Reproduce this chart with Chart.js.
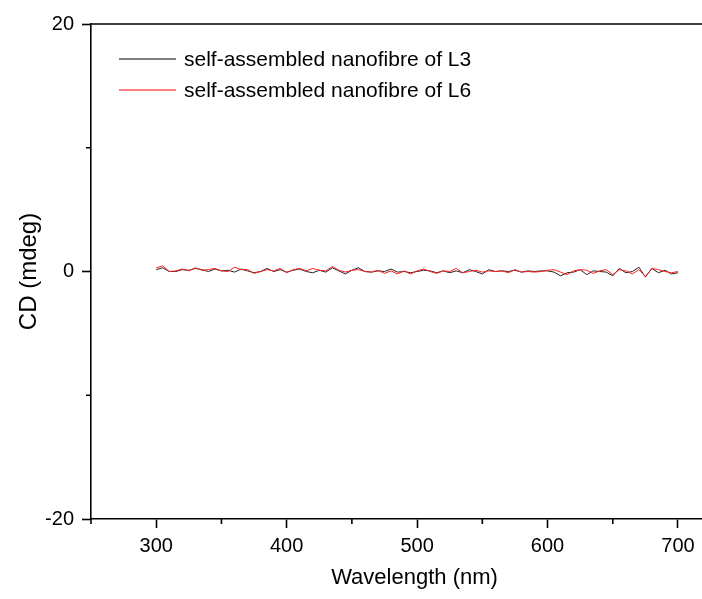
<!DOCTYPE html>
<html>
<head>
<meta charset="utf-8">
<script src="https://cdn.jsdelivr.net/npm/chart.js@4/dist/chart.umd.min.js"></script>
<style>
html,body{margin:0;padding:0;background:#fff;overflow:hidden;}
#wrap{width:702px;height:599px;overflow:hidden;position:relative;}
canvas{display:block;}
</style>
</head>
<body>
<div id="wrap"><canvas id="c" width="738" height="599"></canvas></div>
<script>
// ---- data ----
const wavelengths = [300,305,310,315,320,325,330,335,340,345,350,355,360,365,370,375,380,
  385,390,395,400,405,410,415,420,425,430,435,440,445,450,455,460,
  465,470,475,480,485,490,495,500,505,510,515,520,525,530,535,540,
  545,550,555,560,565,570,575,580,585,590,595,600,605,610,615,620,
  625,630,635,640,645,650,655,660,665,670,675,680,685,690,695,700];
const cdL3 = [0.15,0.3,0.0,0.0,0.15,0.1,0.25,0.15,0.0,0.2,0.05,0.1,-0.05,0.2,0.05,-0.1,0.0,
  0.25,0.0,0.15,-0.05,0.1,0.2,0.0,-0.1,0.1,-0.05,0.3,0.05,-0.2,0.1,0.3,0.0,
  -0.05,0.05,0.0,0.2,-0.05,0.0,-0.1,0.0,0.1,0.05,-0.1,0.05,-0.1,0.05,-0.1,0.15,
  0.0,-0.2,0.15,0.0,0.05,0.0,0.1,-0.05,0.05,0.0,0.05,0.05,-0.05,-0.35,-0.1,-0.05,
  0.15,-0.25,0.05,0.0,-0.05,-0.35,0.25,-0.1,0.0,0.35,-0.45,0.25,-0.1,0.1,-0.2,-0.1];
const cdL6 = [0.3,0.45,0.0,0.05,0.2,0.05,0.3,0.1,0.15,0.25,0.05,0.0,0.35,0.15,0.15,-0.15,0.0,
  0.15,0.05,0.25,-0.1,0.15,0.25,0.05,0.25,0.1,0.05,0.4,0.1,-0.05,0.1,0.15,0.0,
  -0.05,0.1,-0.15,0.05,-0.2,0.05,-0.2,0.05,0.2,0.0,-0.15,0.05,0.0,0.25,-0.1,0.0,
  0.1,-0.05,0.05,0.0,0.05,-0.1,0.15,-0.05,0.0,-0.05,0.0,0.1,0.15,-0.05,-0.25,0.05,
  0.15,0.1,-0.15,0.05,0.15,-0.25,0.15,0.05,-0.2,0.15,-0.4,0.25,0.15,0.0,-0.1,0.0];
const seriesLabels = ['self-assembled nanofibre of L3','self-assembled nanofibre of L6'];
const xMajorTicks = [300,400,500,600,700];
const xMinorTicks = [250,350,450,550,650];
const yMajorTicks = [-20,0,20];
const yMinorTicks = [-10,10];
const xTitle = 'Wavelength (nm)';
const yTitle = 'CD (mdeg)';

const FONT = "'Liberation Sans', Arial, sans-serif";
const AXW = 1.6;

const toPts = (xs, ys) => xs.map((x,i)=>({x:x,y:ys[i]}));

const framePlugin = {
  id:'frame',
  afterDraw(chart){
    const ctx = chart.ctx, a = chart.chartArea;
    const xs = chart.scales.x, ys = chart.scales.y;
    ctx.save();
    ctx.strokeStyle='#000'; ctx.lineWidth=AXW;
    // top border
    ctx.beginPath(); ctx.moveTo(a.left - AXW/2, a.top); ctx.lineTo(a.right+5, a.top); ctx.stroke();
    // minor ticks
    ctx.beginPath();
    xMinorTicks.forEach(v=>{const px=xs.getPixelForValue(v); ctx.moveTo(px,a.bottom); ctx.lineTo(px,a.bottom+5);});
    yMinorTicks.forEach(v=>{const py=ys.getPixelForValue(v); ctx.moveTo(a.left,py); ctx.lineTo(a.left-5,py);});
    ctx.stroke();
    // legend
    ctx.lineWidth=1;
    ctx.font = "21px " + FONT;
    ctx.textBaseline='middle';
    ctx.fillStyle='#000';
    const rows=[59,90];
    chart.data.datasets.forEach((ds,i)=>{
      ctx.strokeStyle = ds.legendColor;
      ctx.beginPath(); ctx.moveTo(119,rows[i]); ctx.lineTo(176,rows[i]); ctx.stroke();
      ctx.fillText(ds.label,184,rows[i]+1);
    });
    ctx.restore();
  }
};

new Chart(document.getElementById('c'),{
  type:'line',
  data:{datasets:[
    {label:seriesLabels[0],data:toPts(wavelengths,cdL3),borderColor:'#222',legendColor:'#000',borderWidth:1,pointRadius:0,tension:0,order:1},
    {label:seriesLabels[1],data:toPts(wavelengths,cdL6),borderColor:'#ff2020',legendColor:'#ff0000',borderWidth:1,pointRadius:0,tension:0,order:0}
  ]},
  options:{
    responsive:false,animation:false,
    layout:{padding:{top:24,right:0,left:0,bottom:0}},
    plugins:{legend:{display:false},tooltip:{enabled:false}},
    scales:{
      x:{type:'linear',min:250,max:746,position:'bottom',
        afterFit(s){s.height=80;},
        afterBuildTicks(s){s.ticks = xMajorTicks.map(v=>({value:v}));},
        border:{display:true,color:'#000',width:AXW},
        grid:{drawOnChartArea:false,drawTicks:true,tickLength:9,tickWidth:AXW,tickColor:'#000'},
        ticks:{autoSkip:false,maxRotation:0,padding:6,color:'#000',font:{family:FONT,size:20},
          callback:v=>String(v)},
        title:{display:true,text:xTitle,color:'#000',font:{family:FONT,size:22},padding:{top:0,bottom:8}}
      },
      y:{type:'linear',min:-20,max:20,position:'left',
        afterFit(s){s.width=91;},
        afterBuildTicks(s){s.ticks = yMajorTicks.map(v=>({value:v}));},
        border:{display:true,color:'#000',width:AXW},
        grid:{drawOnChartArea:false,drawTicks:true,tickLength:9,tickWidth:AXW,tickColor:'#000'},
        ticks:{autoSkip:false,padding:8,color:'#000',font:{family:FONT,size:20},
          callback:v=>String(v)},
        title:{display:true,text:yTitle,color:'#000',font:{family:FONT,size:24},padding:{top:15,bottom:0}}
      }
    }
  },
  plugins:[framePlugin]
});
</script>
</body>
</html>
